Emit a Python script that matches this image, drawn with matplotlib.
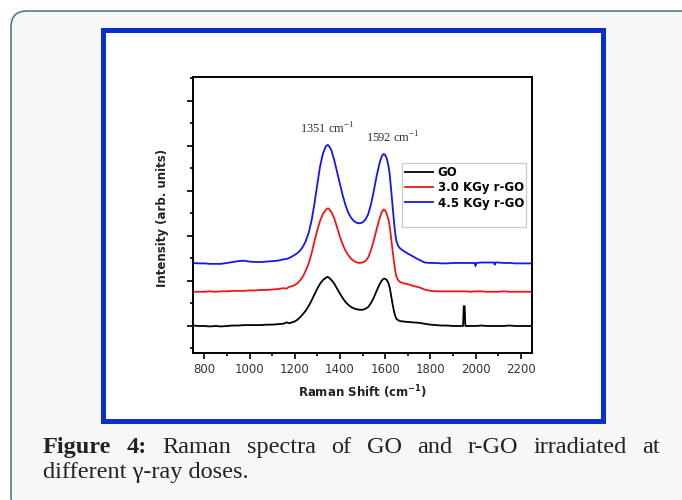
import matplotlib
matplotlib.use('Agg')
import matplotlib.pyplot as plt
from matplotlib.patches import FancyBboxPatch, Rectangle
from matplotlib.ticker import MultipleLocator, NullFormatter

# Raman shift grid (cm-1) shared by the three spectra
shift = [750, 775, 800, 825, 850, 875, 900, 925, 950, 975,
         1000, 1025, 1050, 1075, 1100, 1125, 1150, 1165, 1175, 1187.5,
         1200, 1212.5, 1225, 1237.5, 1250, 1262.5, 1275, 1287.5, 1300, 1312.5,
         1325, 1337.5, 1345, 1350, 1362.5, 1375, 1387.5, 1400, 1412.5, 1425,
         1437.5, 1450, 1462.5, 1475, 1487.5, 1500, 1512.5, 1525, 1537.5, 1550,
         1562.5, 1575, 1585, 1594, 1600, 1607.5, 1615, 1620, 1625, 1632.5,
         1640, 1645, 1650, 1657.5, 1665, 1680, 1700, 1725, 1750, 1775,
         1800, 1825, 1850, 1875, 1900, 1925, 1945, 1948, 1952, 1955,
         1975, 1996, 2000, 2004, 2025, 2050, 2082, 2085, 2088, 2100,
         2125, 2150, 2175, 2200, 2225, 2250]

go = [0.01, 0.00, 0.00, -0.01, 0.00, -0.01, 0.00, 0.01, 0.01, 0.02,
      0.02, 0.02, 0.02, 0.03, 0.03, 0.04, 0.05, 0.08, 0.06, 0.08,
      0.10, 0.14, 0.20, 0.27, 0.35, 0.45, 0.57, 0.70, 0.83, 0.94,
      1.02, 1.07, 1.09, 1.08, 1.02, 0.94, 0.83, 0.72, 0.62, 0.53,
      0.47, 0.42, 0.39, 0.37, 0.36, 0.36, 0.38, 0.42, 0.51, 0.63,
      0.78, 0.92, 1.01, 1.05, 1.05, 1.02, 0.95, 0.86, 0.72, 0.50,
      0.31, 0.22, 0.16, 0.13, 0.11, 0.10, 0.09, 0.08, 0.07, 0.05,
      0.03, 0.02, 0.01, 0.01, 0.00, 0.00, 0.00, 0.44, 0.44, 0.00,
      0.00, 0.00, 0.00, 0.00, 0.01, 0.00, 0.00, 0.00, 0.00, 0.00,
      0.00, 0.01, 0.00, 0.00, 0.00, 0.00]

rgo_30 = [0.76, 0.76, 0.76, 0.77, 0.76, 0.77, 0.77, 0.78, 0.78, 0.78,
          0.79, 0.79, 0.80, 0.80, 0.81, 0.82, 0.84, 0.83, 0.87, 0.88,
          0.91, 0.95, 1.02, 1.11, 1.24, 1.40, 1.62, 1.88, 2.13, 2.34,
          2.49, 2.58, 2.61, 2.61, 2.53, 2.39, 2.19, 1.98, 1.81, 1.67,
          1.57, 1.49, 1.44, 1.41, 1.40, 1.41, 1.44, 1.52, 1.68, 1.90,
          2.15, 2.38, 2.53, 2.59, 2.57, 2.49, 2.36, 2.22, 2.02, 1.70,
          1.40, 1.22, 1.10, 1.02, 0.98, 0.95, 0.93, 0.89, 0.86, 0.81,
          0.78, 0.77, 0.77, 0.77, 0.77, 0.77, 0.77, 0.77, 0.77, 0.77,
          0.76, 0.77, 0.76, 0.77, 0.77, 0.76, 0.76, 0.76, 0.76, 0.76,
          0.77, 0.76, 0.76, 0.76, 0.76, 0.76]

rgo_45 = [1.40, 1.39, 1.39, 1.38, 1.38, 1.38, 1.40, 1.42, 1.44, 1.45,
          1.43, 1.42, 1.42, 1.43, 1.44, 1.45, 1.48, 1.49, 1.51, 1.54,
          1.58, 1.62, 1.68, 1.77, 1.90, 2.08, 2.35, 2.72, 3.15, 3.55,
          3.83, 3.99, 4.02, 4.01, 3.90, 3.68, 3.42, 3.16, 2.90, 2.68,
          2.51, 2.40, 2.33, 2.29, 2.28, 2.30, 2.36, 2.48, 2.70, 3.00,
          3.33, 3.61, 3.77, 3.82, 3.80, 3.72, 3.55, 3.38, 3.12, 2.70,
          2.28, 2.05, 1.88, 1.78, 1.73, 1.67, 1.61, 1.54, 1.47, 1.41,
          1.40, 1.40, 1.39, 1.39, 1.40, 1.40, 1.40, 1.40, 1.40, 1.40,
          1.40, 1.40, 1.33, 1.40, 1.41, 1.41, 1.41, 1.36, 1.41, 1.41,
          1.40, 1.40, 1.39, 1.39, 1.39, 1.39]

labels = ['GO', '3.0 KGy r-GO', '4.5 KGy r-GO']
colors = ['black', '#f01515', '#1515f0']

peak_text = ['1351 cm$^{\\mathregular{-1}}$', '1592 cm$^{\\mathregular{-1}}$']
peak_text_xy = [(1343, 4.2), (1632, 4.0)]

fig = plt.figure(figsize=(6.82, 5.0), dpi=100)

# page background in pixel coordinates
bg = fig.add_axes([0, 0, 1, 1])
bg.set_xlim(0, 682)
bg.set_ylim(500, 0)
bg.axis('off')
bg.add_patch(FancyBboxPatch((11, 11), 700, 501, boxstyle='round,pad=0,rounding_size=16',
                            facecolor='#f7f7f5', edgecolor='#4d7f92', linewidth=1.2))
bg.add_patch(Rectangle((102.5, 29.5), 500, 391, facecolor='white', edgecolor='#0a30cc', linewidth=3.6))

# caption, first line justified
words1 = ['Figure', '4:', 'Raman', 'spectra', 'of', 'GO', 'and', 'r-GO', 'irradiated', 'at']
txts = []
for i, w in enumerate(words1):
    txts.append(bg.text(0, 453, w, fontsize=17.5, family='Liberation Serif', va='baseline', ha='left',
                        color='#222222', fontweight='bold' if i < 2 else 'normal'))
fig.canvas.draw()
r = fig.canvas.get_renderer()
widths = [t.get_window_extent(r).width for t in txts]
gap = (660 - 43 - sum(widths)) / (len(words1) - 1)
xpos = 43
for t, w in zip(txts, widths):
    t.set_x(xpos)
    xpos += w + gap
bg.text(43, 478, 'different \u03b3-ray doses.', fontsize=17.5, family='Liberation Serif',
        va='baseline', ha='left', color='#222222')

# main plot
ax = fig.add_axes([193 / 682, 1 - 353 / 500, 339 / 682, 276 / 500])
for ys, lab, c in zip([go, rgo_30, rgo_45], labels, colors):
    ax.plot(shift, ys, color=c, lw=1.3, label=lab)

ax.set_xlim(750, 2250)
ax.set_ylim(-0.6, 5.53)
ax.xaxis.set_major_locator(MultipleLocator(200))
ax.xaxis.set_minor_locator(MultipleLocator(100))
ax.yaxis.set_major_locator(MultipleLocator(1))
ax.yaxis.set_minor_locator(MultipleLocator(0.5))
ax.yaxis.set_major_formatter(NullFormatter())
ax.tick_params(which='both', direction='out', width=1.2, top=False, right=False,
               labelsize=8.5, labelcolor='#333333')
ax.tick_params(which='major', length=4)
ax.tick_params(which='minor', length=2.5)
for s in ax.spines.values():
    s.set_linewidth(1.4)

for txt, xy in zip(peak_text, peak_text_xy):
    ax.text(xy[0], xy[1], txt, fontsize=9, family='Liberation Serif', ha='center', va='bottom',
            color='#333333')

ax.set_xlabel('Raman Shift (cm$^{\\mathregular{-1}}$)', fontsize=8.5, fontweight='bold', color='#222222')
ax.set_ylabel('Intensity (arb. units)', fontsize=8.5, fontweight='bold', color='#222222')
ax.xaxis.set_label_coords(0.501, -0.109)
ax.yaxis.set_label_coords(-0.072, 0.49)

# legend box drawn separately (extra room under the entries)
ax.add_patch(Rectangle((0.616, 0.455), 0.366, 0.232, transform=ax.transAxes, facecolor='white',
                       edgecolor='#cccccc', linewidth=0.9, zorder=4))
leg = ax.legend(loc='upper left', bbox_to_anchor=(0.625, 0.678), frameon=False,
                borderpad=0, borderaxespad=0, handlelength=2.37, handletextpad=0.42,
                labelspacing=0.2, prop={'weight': 'bold', 'size': 8.5})
leg.set_zorder(5)

fig.savefig('out.png', dpi=100)
